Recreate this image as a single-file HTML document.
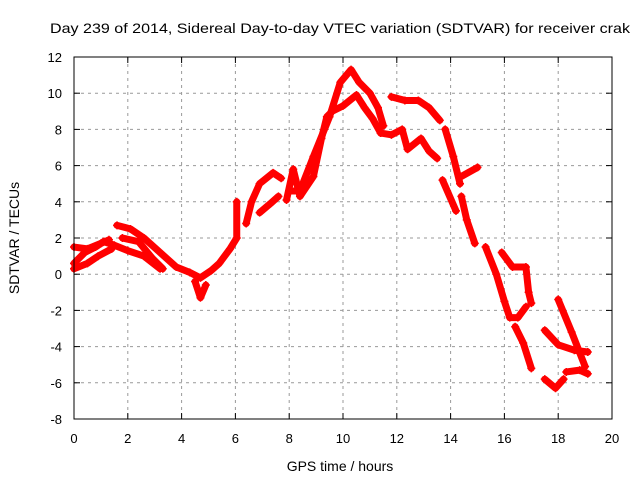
<!DOCTYPE html>
<html><head><meta charset="utf-8"><style>
body{margin:0;background:#fff;}
svg{display:block;font-family:"Liberation Sans",sans-serif;}
</style></head><body>
<svg id="chart" width="640" height="480" viewBox="0 0 640 480" xmlns="http://www.w3.org/2000/svg">
<text x="340" y="33" font-size="14" text-anchor="middle" textLength="580" lengthAdjust="spacingAndGlyphs">Day 239 of 2014, Sidereal Day-to-day VTEC variation (SDTVAR) for receiver crak</text>
<text transform="translate(19,238) rotate(-90)" font-size="14" text-anchor="middle">SDTVAR / TECUs</text>
<text x="340" y="471" font-size="14" text-anchor="middle">GPS time / hours</text>
<g id="grid"></g>
<g id="ticks"></g>
<g id="series"></g>
<rect x="74" y="57" width="538" height="362" fill="none" stroke="#000" stroke-width="1"/>
</svg>
<script>
const xTicks=[0,2,4,6,8,10,12,14,16,18,20];
const yTicks=[-8,-6,-4,-2,0,2,4,6,8,10,12];
// tracks: [hour, TECU]
const track1=[[0,0.6],[0.4,1.2],[0.8,1.5],[1.1,1.8],[1.5,1.6],[2,1.3],[2.6,1.0],[3.2,0.3]];
const track1b=[[0,1.5],[0.5,1.4],[1.0,1.7],[1.3,1.9]];
const track1c=[[0,0.3],[0.5,0.6],[0.9,1.0],[1.4,1.4]];
const track2=[[1.6,2.7],[2.1,2.5],[2.6,2.0],[3.2,1.2],[3.8,0.4],[4.3,0.1],[4.7,-0.2],[5.1,0.2],[5.4,0.6],[5.8,1.4],[6.05,2.0],[6.05,4.0]];
const track3=[[1.8,2.0],[2.4,1.8],[2.9,0.9],[3.3,0.3]];
const track4=[[4.5,-0.4],[4.7,-1.3],[4.9,-0.6]];
const track5=[[6.4,2.8],[6.6,4.0],[6.9,5.0],[7.4,5.6],[7.7,5.3]];
const track6=[[6.9,3.4],[7.3,3.9],[7.6,4.3]];
const track7=[[7.9,4.1],[8.15,5.8],[8.4,4.3],[8.9,5.4],[9.2,7.5],[9.4,8.7],[9.6,9.0],[10,9.3],[10.5,9.9],[10.8,9.2],[11.1,8.6],[11.4,7.8]];
const track8=[[8.0,4.6],[8.4,4.6],[8.9,6.5],[9.5,8.7],[9.9,10.6],[10.3,11.3],[10.6,10.6],[11,10.0],[11.3,9.2],[11.5,8.2]];
const track9=[[11.8,9.8],[12.3,9.6],[12.8,9.6],[13.2,9.2],[13.6,8.5]];
const track10=[[11.4,7.8],[11.8,7.7],[12.2,8.0],[12.4,6.9],[12.9,7.5],[13.2,6.8],[13.5,6.4]];
const track11=[[13.8,8.0],[14.1,6.5],[14.35,5.0]];
const track12=[[13.7,5.2],[14.2,3.5]];
const track13=[[14.4,5.4],[15.0,5.9]];
const track14=[[14.4,4.3],[14.6,3.0],[14.9,1.7]];
const track15=[[15.3,1.5],[15.7,0.0],[16.0,-1.5],[16.2,-2.4],[16.5,-2.4],[16.8,-1.8]];
const track16=[[15.9,1.2],[16.3,0.4],[16.8,0.4],[16.9,-1.0],[17.0,-1.6]];
const track17=[[16.4,-2.9],[16.7,-3.8],[17.0,-5.2]];
const track18=[[18.0,-1.4],[18.5,-3.2],[19.0,-5.1]];
const track19=[[17.5,-3.1],[18.0,-3.9],[18.6,-4.2],[19.1,-4.3]];
const track20=[[17.5,-5.8],[17.9,-6.3],[18.2,-5.8]];
const track21=[[18.3,-5.4],[18.8,-5.3],[19.1,-5.5]];
const tracks=[track1,track1b,track1c,track2,track3,track4,track5,track6,track7,track8,track9,track10,track11,track12,track13,track14,track15,track16,track17,track18,track19,track20,track21];

const X0=74,X1=612,Y0=419,Y1=57;
const sx=h=>X0+(h-0)/(20-0)*(X1-X0);
const sy=v=>Y0-(v+8)/(12+8)*(Y0-Y1);
const NS="http://www.w3.org/2000/svg";
const grid=document.getElementById('grid'),ticks=document.getElementById('ticks'),ser=document.getElementById('series');
function mk(t,a,p){const e=document.createElementNS(NS,t);for(const k in a)e.setAttribute(k,a[k]);p.appendChild(e);return e;}
xTicks.forEach(t=>{
  const x=sx(t);
  if(t>0&&t<20){const g=mk('line',{x1:x,x2:x,y1:Y1,y2:Y0,stroke:'#999','stroke-dasharray':'3,4'},grid);
  
  }
  mk('line',{x1:x,x2:x,y1:Y0,y2:Y0-6,stroke:'#000'},ticks);
  mk('line',{x1:x,x2:x,y1:Y1,y2:Y1+6,stroke:'#000'},ticks);
  const l=mk('text',{x:x,y:443,'font-size':13,'text-anchor':'middle'},ticks);l.textContent=t;
  
  
});
yTicks.forEach(t=>{
  const y=sy(t);
  if(t>-8&&t<12){const g=mk('line',{x1:X0,x2:X1,y1:y,y2:y,stroke:'#999','stroke-dasharray':'3,4'},grid);
  
  }
  mk('line',{x1:X0,x2:X0+6,y1:y,y2:y,stroke:'#000'},ticks);
  mk('line',{x1:X1,x2:X1-6,y1:y,y2:y,stroke:'#000'},ticks);
  const l=mk('text',{x:62,y:y+5,'font-size':13,'text-anchor':'end'},ticks);l.textContent=t;
  
  
});
tracks.forEach((tr,i)=>{
  const p=mk('polyline',{points:tr.map(d=>sx(d[0])+','+sy(d[1])).join(' '),fill:'none',stroke:'#ff0000','stroke-width':7,'stroke-linejoin':'round','stroke-linecap':'round'},ser);
  
  
  tr.forEach(d=>{
    const x=sx(d[0]),y=sy(d[1]);
    const m=mk('path',{d:`M${x-4},${y}H${x+4}M${x},${y-4}V${y+4}`,stroke:'#ff0000','stroke-width':1.5},ser);
    
    
  });
});
</script>
</body></html>
